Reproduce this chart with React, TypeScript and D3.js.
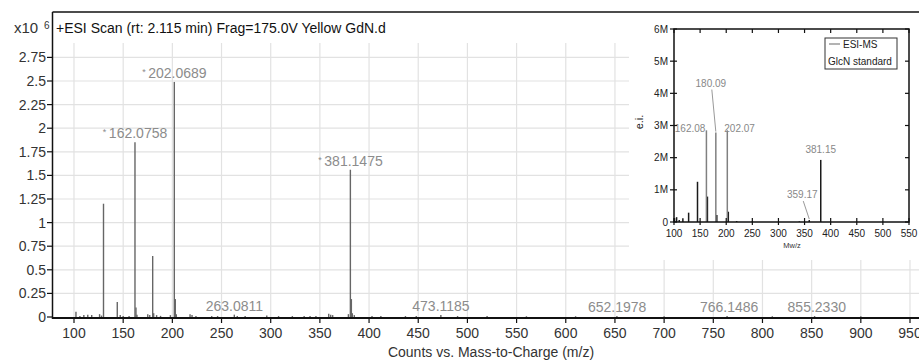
import React from 'react';
import * as d3 from 'd3';

// main spectrum (intensity in x10^6 counts)
const peakMz = [102, 106, 110, 114, 118, 126, 128, 130, 144, 147, 150, 156, 162, 163, 164, 175, 177, 180, 181, 184, 188, 198, 202, 203, 204, 218, 220, 224, 240, 246, 263, 266, 274, 296, 308, 322, 334, 340, 346, 359, 361, 363, 379, 381, 382, 383, 385, 403, 412, 437, 448, 473, 490, 520, 560, 610, 652, 700, 764, 810, 853, 900];
const peakInt = [0.056, 0.01, 0.02, 0.025, 0.02, 0.03, 0.015, 1.2, 0.16, 0.02, 0.01, 0.01, 1.85, 0.1, 0.025, 0.03, 0.02, 0.646, 0.04, 0.02, 0.012, 0.02, 2.49, 0.19, 0.03, 0.03, 0.02, 0.01, 0.01, 0.01, 0.025, 0.01, 0.01, 0.015, 0.01, 0.01, 0.01, 0.01, 0.01, 0.035, 0.025, 0.02, 0.03, 1.56, 0.19, 0.04, 0.02, 0.01, 0.01, 0.01, 0.01, 0.02, 0.01, 0.01, 0.008, 0.008, 0.01, 0.008, 0.01, 0.008, 0.01, 0.008];

const annotMz = [162.0758, 202.0689, 381.1475, 263.0811, 473.1185, 652.1978, 766.1486, 855.233];
const annotText = ['162.0758', '202.0689', '381.1475', '263.0811', '473.1185', '652.1978', '766.1486', '855.2330'];
const annotInt = [1.85, 2.49, 1.56, 0.025, 0.02, 0.01, 0.01, 0.01];
const annotStar = [true, true, true, false, false, false, false, false];

const mzTicks = d3.range(100, 951, 50);
const intTicks = [0, 0.25, 0.5, 0.75, 1, 1.25, 1.5, 1.75, 2, 2.25, 2.5, 2.75];
const intTickLabels = ['0', '0.25', '0.5', '0.75', '1', '1.25', '1.5', '1.75', '2', '2.25', '2.5', '2.75'];

// inset (intensity in M)
const esiMz = [101, 105, 110, 117, 128, 145, 164, 182, 204, 220, 250, 340, 359, 381];
const esiInt = [0.12, 0.15, 0.06, 0.12, 0.29, 1.25, 0.79, 0.22, 0.32, 0.03, 0.02, 0.02, 0.06, 1.93];
const glcnMz = [162.08, 180.09, 202.07];
const glcnInt = [2.85, 2.78, 2.85];
const insetLabelText = ['162.08', '180.09', '202.07', '381.15', '359.17'];
const insetMzTicks = d3.range(100, 551, 50);
const insetIntTicks = [0, 1, 2, 3, 4, 5, 6];
const insetIntLabels = ['0', '1M', '2M', '3M', '4M', '5M', '6M'];

const W = 919;
const H = 360;
const font = '"Liberation Sans", Arial, sans-serif';

// label placement relative to peak tops: [dx, dy, anchor, leader]
const insetLabelLayout: [number, number, string, boolean][] = [
  [-1, 2, 'end', false],
  [-5, -46, 'middle', true],
  [-3, 2, 'start', false],
  [0, -7, 'middle', false],
  [-7, -22, 'middle', true],
];

export default function App() {
  const x = d3.scaleLinear().domain([100, 950]).range([74, 910]);
  const y = d3.scaleLinear().domain([0, 2.75]).range([317, 57.4]);

  const ix = d3.scaleLinear().domain([100, 550]).range([674, 909]);
  const iy = d3.scaleLinear().domain([0, 6]).range([222, 29]);

  const insetLabelMz = [glcnMz[0], glcnMz[1], glcnMz[2], esiMz[13], esiMz[12]];
  const insetLabelInt = [glcnInt[0], glcnInt[1], glcnInt[2], esiInt[13], esiInt[12]];

  return (
    <svg width={W} height={H} style={{ position: 'absolute', left: 0, top: 0, background: '#fff' }} fontFamily={font}>
      <rect width={W} height={H} fill="#fff" />
      {/* grid */}
      {intTicks.slice(1).map(t => (
        <line key={'hg' + t} x1={53} x2={W} y1={y(t)} y2={y(t)} stroke="#e2e2e2" strokeWidth={1.2} />
      ))}
      {mzTicks.map(t => (
        <line key={'vg' + t} x1={x(t)} x2={x(t)} y1={43} y2={317} stroke="#e2e2e2" strokeWidth={1.2} />
      ))}

      {/* peaks */}
      {peakMz.map((m, i) => (
        <line key={'p' + i} x1={x(m)} x2={x(m)} y1={y(0)} y2={y(peakInt[i])} stroke="#666" strokeWidth={1.4} />
      ))}

      {/* annotations */}
      {annotMz.map((m, i) => (
        <text key={'a' + i} x={x(m)} y={y(annotInt[i]) - 4} textAnchor="middle" fontSize={14} fill="#8c8c8c">
          {annotStar[i] && <tspan fontSize={9} dy={-3}>* </tspan>}
          <tspan dy={annotStar[i] ? 3 : 0}>{annotText[i]}</tspan>
        </text>
      ))}

      {/* frame + axes */}
      <line x1={52.5} x2={W} y1={12} y2={12} stroke="#111" strokeWidth={1.5} />
      <line x1={52.5} x2={52.5} y1={12} y2={319} stroke="#111" strokeWidth={1.5} />
      <line x1={52} x2={W} y1={318} y2={318} stroke="#111" strokeWidth={2} />
      {intTicks.map((t, i) => (
        <g key={'yt' + t}>
          <line x1={47} x2={53} y1={y(t)} y2={y(t)} stroke="#111" strokeWidth={1.2} />
          <text x={46} y={y(t) + 5} textAnchor="end" fontSize={14} fill="#333">{intTickLabels[i]}</text>
        </g>
      ))}
      {mzTicks.map(t => (
        <g key={'xt' + t}>
          <line x1={x(t)} x2={x(t)} y1={318} y2={323} stroke="#111" strokeWidth={1.2} />
          <text x={x(t)} y={338} textAnchor="middle" fontSize={14} fill="#333">{t}</text>
        </g>
      ))}
      <text x={14} y={33} fontSize={15} fill="#333">x10</text>
      <text x={44} y={29} fontSize={10} fill="#333">6</text>
      <text x={56} y={33} fontSize={14} fill="#111">+ESI Scan (rt: 2.115 min) Frag=175.0V Yellow GdN.d</text>
      <text x={491} y={357} textAnchor="middle" fontSize={14} fill="#333">Counts vs. Mass-to-Charge (m/z)</text>

      {/* inset */}
      <rect x={629} y={13} width={W - 629} height={247} fill="#fff" />
      {esiMz.map((m, i) => (
        <line key={'e' + i} x1={ix(m)} x2={ix(m)} y1={iy(0)} y2={iy(esiInt[i])} stroke="#1a1a1a" strokeWidth={1.5} />
      ))}
      {glcnMz.map((m, i) => (
        <line key={'g' + i} x1={ix(m)} x2={ix(m)} y1={iy(0)} y2={iy(glcnInt[i])} stroke="#808080" strokeWidth={1.5} />
      ))}
      {insetLabelMz.map((m, i) => {
        const [dx, dy, anchor, leader] = insetLabelLayout[i];
        const px = ix(m);
        const py = iy(insetLabelInt[i]);
        return (
          <g key={'il' + i}>
            {leader && <line x1={px + dx + 1} y1={py + dy + 3} x2={px} y2={py - 1} stroke="#999" strokeWidth={1} />}
            <text x={px + dx} y={py + dy} textAnchor={anchor as any} fontSize={10} fill="#888">{insetLabelText[i]}</text>
          </g>
        );
      })}
      <rect x={674} y={29} width={235} height={193} fill="none" stroke="#111" strokeWidth={1.5} />
      {insetIntTicks.map((t, i) => (
        <g key={'iy' + t}>
          <line x1={670} x2={677} y1={iy(t)} y2={iy(t)} stroke="#111" strokeWidth={1.2} />
          <line x1={905} x2={909} y1={iy(t)} y2={iy(t)} stroke="#111" strokeWidth={1.2} />
          <text x={668} y={iy(t) + 3.5} textAnchor="end" fontSize={10} fill="#222">{insetIntLabels[i]}</text>
        </g>
      ))}
      {insetMzTicks.map(t => (
        <g key={'ix' + t}>
          <line x1={ix(t)} x2={ix(t)} y1={218} y2={225} stroke="#111" strokeWidth={1.2} />
          <line x1={ix(t)} x2={ix(t)} y1={29} y2={33} stroke="#111" strokeWidth={1.2} />
          <text x={ix(t)} y={237} textAnchor="middle" fontSize={10} fill="#222">{t}</text>
        </g>
      ))}
      <text transform="translate(643,122) rotate(-90)" textAnchor="middle" fontSize={11} fill="#222">e.i.</text>
      <text x={792} y={248} textAnchor="middle" fontSize={7.5} fill="#333">Mw/z</text>
      <rect x={825} y={38} width={72} height={31} fill="#fff" stroke="#333" strokeWidth={1} />
      <line x1={829} x2={840} y1={44} y2={44} stroke="#808080" strokeWidth={1.2} />
      <text x={843} y={48} fontSize={10} fill="#222">ESI-MS</text>
      <text x={828} y={65} fontSize={10} fill="#222">GlcN standard</text>
    </svg>
  );
}
